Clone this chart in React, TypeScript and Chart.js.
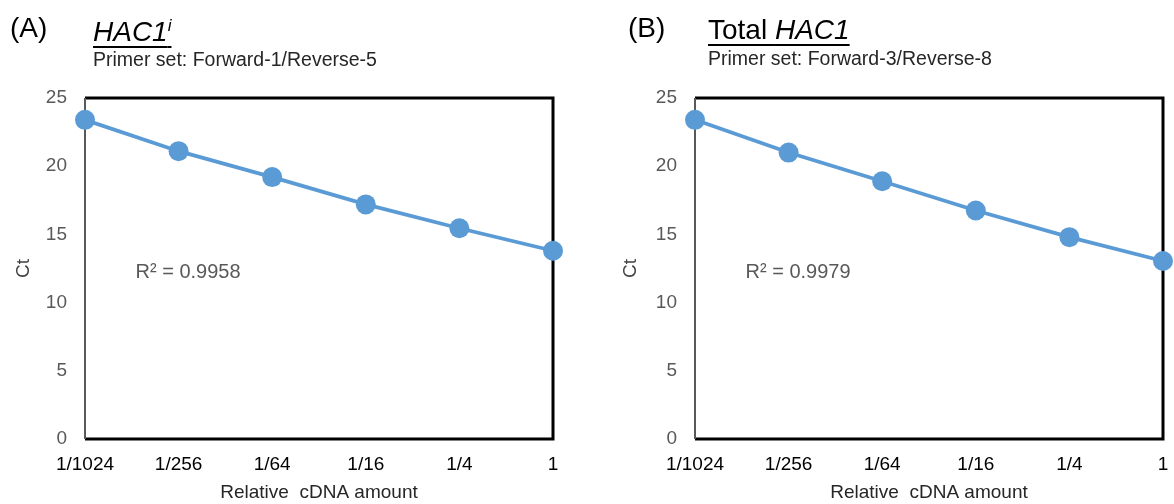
import React, { useEffect, useRef } from "react";
import { Chart, registerables } from "chart.js";

Chart.register(...registerables);

const categories = ["1/1024", "1/256", "1/64", "1/16", "1/4", "1"];
const ctA = [23.4, 21.1, 19.2, 17.2, 15.45, 13.8];
const ctB = [23.4, 21.0, 18.9, 16.75, 14.8, 13.05];
const yTicks = [0, 5, 10, 15, 20, 25];
const r2A = "R² = 0.9958";
const r2B = "R² = 0.9979";

const FAMILY = '"Liberation Sans", Arial, sans-serif';
const BLUE = "#5B9BD5";

type PanelProps = {
  values: number[];
  r2: string;
  left: number;
  width: number;
  padLeft: number;
  plotLeft: number;
  padRight: number;
};

function Panel({ values, r2, left, width, padLeft, plotLeft, padRight }: PanelProps) {
  const ref = useRef<HTMLCanvasElement>(null);
  useEffect(() => {
    if (!ref.current) return;
    const framePlugin = {
      id: "frame",
      beforeDatasetsDraw(chart: any) {
        const { ctx, chartArea: a } = chart;
        ctx.save();
        ctx.strokeStyle = "#000";
        ctx.lineWidth = 3;
        ctx.beginPath();
        ctx.moveTo(a.left, a.top);
        ctx.lineTo(a.right, a.top);
        ctx.lineTo(a.right, a.bottom);
        ctx.lineTo(a.left, a.bottom);
        ctx.stroke();
        ctx.strokeStyle = "#595959";
        ctx.lineWidth = 2;
        ctx.beginPath();
        ctx.moveTo(a.left, a.top);
        ctx.lineTo(a.left, a.bottom);
        ctx.stroke();
        const xs = chart.scales.x;
        const ys = chart.scales.y;
        ctx.fillStyle = "#595959";
        ctx.font = `20px ${FAMILY}`;
        ctx.textAlign = "left";
        ctx.textBaseline = "alphabetic";
        ctx.fillText(r2, xs.getPixelForValue(0.54), ys.getPixelForValue(11.8));
        ctx.restore();
      },
    };
    const chart = new Chart(ref.current, {
      type: "line",
      data: {
        labels: categories,
        datasets: [
          {
            data: values,
            borderColor: BLUE,
            backgroundColor: BLUE,
            pointBackgroundColor: BLUE,
            pointBorderColor: BLUE,
            pointRadius: 10,
            pointBorderWidth: 0,
            borderWidth: 3.8,
            tension: 0,
            clip: false as any,
          },
        ],
      },
      options: {
        animation: false,
        responsive: false,
        devicePixelRatio: 1,
        layout: { padding: { left: padLeft, right: padRight, top: 98, bottom: 0 } },
        plugins: { legend: { display: false }, tooltip: { enabled: false } },
        events: [],
        scales: {
          x: {
            type: "category",
            offset: false,
            grid: { display: false, drawTicks: false },
            border: { display: false },
            ticks: {
              color: "#000",
              font: { size: 19, family: FAMILY },
              padding: 14,
              maxRotation: 0,
              autoSkip: false,
            },
            title: {
              display: true,
              text: "Relative  cDNA amount",
              color: "#262626",
              font: { size: 19, family: FAMILY },
              padding: { top: 0, bottom: 0 },
            },
            afterFit: (s: any) => {
              s.height = 65;
              s.paddingLeft = 0;
              s.paddingRight = 0;
            },
          },
          y: {
            min: 0,
            max: 25,
            grid: { display: false, drawTicks: false },
            border: { display: false },
            ticks: {
              color: "#595959",
              font: { size: 19, family: FAMILY },
              padding: 18,
            },
            afterBuildTicks: (s: any) => {
              s.ticks = yTicks.map((v) => ({ value: v }));
            },
            title: {
              display: true,
              text: "Ct",
              color: "#404040",
              font: { size: 19, family: FAMILY },
              padding: { top: 2, bottom: 0 },
            },
            afterFit: (s: any) => {
              s.width = plotLeft - padLeft;
            },
          },
        },
      },
      plugins: [framePlugin],
    });
    return () => chart.destroy();
  }, [values, r2, width, padLeft, plotLeft, padRight]);
  return (
    <canvas
      ref={ref}
      width={width}
      height={504}
      style={{ position: "absolute", left, top: 0, width, height: 504 }}
    />
  );
}

function abs(left: number, baseline: number, fs: number): React.CSSProperties {
  return {
    position: "absolute",
    left,
    top: baseline - 0.8465 * fs,
    fontSize: fs,
    lineHeight: 1,
    fontFamily: FAMILY,
    whiteSpace: "nowrap",
    margin: 0,
  };
}

export default function App() {
  return (
    <div
      style={{
        position: "fixed",
        left: 0,
        top: 0,
        width: 1174,
        height: 504,
        background: "#fff",
        overflow: "hidden",
      }}
    >
      <Panel values={ctA} r2={r2A} left={0} width={600} padLeft={10} plotLeft={85} padRight={47} />
      <Panel values={ctB} r2={r2B} left={600} width={574} padLeft={17} plotLeft={95} padRight={11} />

      <div style={{ ...abs(10, 38, 28), color: "#000" }}>(A)</div>
      <div
        style={{
          ...abs(93, 41, 28),
          color: "#000",
          textDecoration: "underline",
          textDecorationThickness: 2,
          textUnderlineOffset: 5,
        }}
      >
        <i>HAC1</i>
        <i style={{ fontSize: 17, verticalAlign: 10, lineHeight: 1 }}>i</i>
      </div>
      <div style={{ ...abs(93, 67, 19.5), color: "#262626" }}>Primer set: Forward-1/Reverse-5</div>

      <div style={{ ...abs(628, 38, 28), color: "#000" }}>(B)</div>
      <div
        style={{
          ...abs(708, 40, 28),
          color: "#000",
          textDecoration: "underline",
          textDecorationThickness: 2,
          textUnderlineOffset: 5,
        }}
      >
        Total <i>HAC1</i>
      </div>
      <div style={{ ...abs(708, 66, 19.5), color: "#262626" }}>Primer set: Forward-3/Reverse-8</div>
    </div>
  );
}
